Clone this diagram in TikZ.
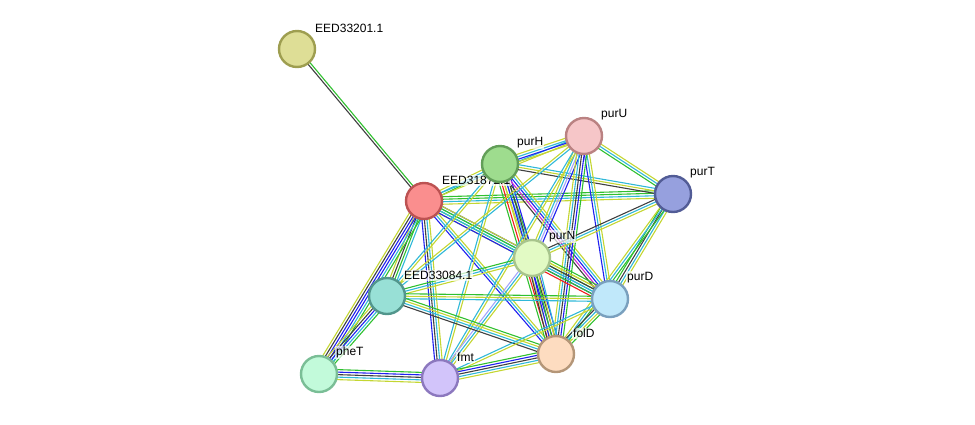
\documentclass[tikz,border=0pt]{standalone}
\usepackage{fontspec}
\setmainfont{Liberation Sans}
\usetikzlibrary{calc, positioning, backgrounds}
\pgfdeclarelayer{edges}
\pgfdeclarelayer{labels}
\pgfsetlayers{edges,labels,main}

% evidence channel colours
\definecolor{tmcol}{RGB}{196,214,50}
\definecolor{dbcol}{RGB}{48,184,216}
\definecolor{cocol}{RGB}{64,64,64}
\definecolor{nbcol}{RGB}{48,192,48}
\definecolor{occol}{RGB}{32,32,240}
\definecolor{excol}{RGB}{210,40,210}
\definecolor{fucol}{RGB}{240,30,30}
\definecolor{hmcol}{RGB}{165,165,250}

\tikzset{
  prot/.style={circle, minimum size=36pt, inner sep=0pt, line width=2.4pt},
  lab/.style={anchor=south west, inner sep=1pt, fill=white, fill opacity=0.7, text opacity=1,
    font=\fontsize{12}{13}\selectfont},
  tm/.style={draw=tmcol, line width=1.1pt},
  db/.style={draw=dbcol, line width=1.1pt},
  co/.style={draw=cocol, line width=1.1pt},
  nb/.style={draw=nbcol, line width=1.1pt},
  oc/.style={draw=occol, line width=1.1pt},
  ex/.style={draw=excol, line width=1.1pt},
  fu/.style={draw=fucol, line width=1.1pt},
  hm/.style={draw=hmcol, line width=1.1pt},
}

% one edge = a bundle of parallel evidence lines
\newcommand{\evid}[3]{%
  \foreach \ch [count=\k] in {#3} {\xdef\nlin{\k}}%
  \foreach \ch [count=\k] in {#3} {%
    \pgfmathsetmacro\off{(\k-(\nlin+1)/2)*2.5}%
    \draw[\ch] ($(#1)!\off pt!90:(#2)$) -- ($(#2)!\off pt!-90:(#1)$);
  }}

\begin{document}
\begin{tikzpicture}[x=1pt, y=-1pt]
  \useasboundingbox (0,0) rectangle (975,424);

  % proteins
  \node[prot, fill={rgb,255:red,222;green,222;blue,150}, draw={rgb,255:red,158;green,158;blue,80}] (eedA) at (297,49) {};
  \node[prot, fill={rgb,255:red,250;green,142;blue,142}, draw={rgb,255:red,188;green,82;blue,82}] (eedB) at (424,201) {};
  \node[prot, fill={rgb,255:red,158;green,220;blue,142}, draw={rgb,255:red,98;green,158;blue,88}] (purH) at (500,164) {};
  \node[prot, fill={rgb,255:red,246;green,198;blue,200}, draw={rgb,255:red,186;green,130;blue,130}] (purU) at (584,136) {};
  \node[prot, fill={rgb,255:red,150;green,160;blue,222}, draw={rgb,255:red,82;green,92;blue,150}] (purT) at (673,194) {};
  \node[prot, fill={rgb,255:red,226;green,250;blue,196}, draw={rgb,255:red,168;green,196;blue,140}] (purN) at (532,258) {};
  \node[prot, fill={rgb,255:red,152;green,224;blue,214}, draw={rgb,255:red,82;green,150;blue,140}] (eedC) at (387,296) {};
  \node[prot, fill={rgb,255:red,192;green,232;blue,250}, draw={rgb,255:red,122;green,160;blue,190}] (purD) at (610,299) {};
  \node[prot, fill={rgb,255:red,253;green,220;blue,192}, draw={rgb,255:red,180;green,150;blue,120}] (folD) at (556,354) {};
  \node[prot, fill={rgb,255:red,194;green,250;blue,218}, draw={rgb,255:red,122;green,190;blue,150}] (pheT) at (319,374) {};
  \node[prot, fill={rgb,255:red,210;green,196;blue,250}, draw={rgb,255:red,140;green,120;blue,190}] (fmt) at (440,378) {};

  % labels
  \begin{pgfonlayer}{labels}
    \node[lab] (lA) at ($(eedA)+(17,-15)$) {EED33201.1};
    \node[lab] (lB) at ($(eedB)+(17,-15)$) {EED31872.1};
    \node[lab] (lH) at ($(purH)+(16,-15)$) {purH};
    \node[lab] (lU) at ($(purU)+(16,-15)$) {purU};
    \node[lab] (lT) at ($(purT)+(16,-15)$) {purT};
    \node[lab] (lN) at ($(purN)+(16,-15)$) {purN};
    \node[lab] (lC) at ($(eedC)+(16,-15)$) {EED33084.1};
    \node[lab] (lD) at ($(purD)+(16,-15)$) {purD};
    \node[lab] (lF) at ($(folD)+(16,-15)$) {folD};
    \node[lab] (lP) at ($(pheT)+(16,-15)$) {pheT};
    \node[lab] (lM) at ($(fmt)+(16,-15)$) {fmt};
  \end{pgfonlayer}

  % interactions
  \begin{pgfonlayer}{edges}
    \evid{eedA}{eedB}{co,nb}
    \evid{eedB}{purH}{nb,db,tm}
    \evid{eedB}{purU}{tm,db}
    \evid{eedB}{purT}{tm,db,nb,nb}
    \evid{eedB}{purN}{tm,nb,db,oc}
    \evid{eedB}{purD}{oc,db,nb,tm}
    \evid{eedB}{folD}{oc,db,tm}
    \evid{eedB}{eedC}{tm,co,nb,db}
    \evid{eedB}{pheT}{tm,co,oc,oc,db,nb}
    \evid{eedB}{fmt}{oc,co,db,tm}
    \evid{purH}{purU}{tm,oc,db,tm}
    \evid{purH}{purT}{co,tm,db}
    \evid{purH}{purN}{tm,db,nb}
    \evid{purH}{folD}{nb,fu,tm,oc,co,oc}
    \evid{purH}{purD}{co,ex,oc,db,tm}
    \evid{purH}{eedC}{db,tm}
    \evid{purH}{fmt}{db,tm}
    \evid{purU}{purT}{nb,db,tm}
    \evid{purU}{purN}{tm,db,hm,oc}
    \evid{purU}{purD}{oc,db,tm}
    \evid{purU}{folD}{tm,db,co,oc,nb}
    \evid{purU}{eedC}{tm,db}
    \evid{purU}{fmt}{db,tm}
    \evid{purT}{purN}{co,db,tm}
    \evid{purT}{purD}{nb,co,db,tm}
    \evid{purT}{folD}{tm,db,nb}
    \evid{purN}{purD}{fu,nb,db,co,tm,nb}
    \evid{purN}{folD}{co,oc,nb,tm,db}
    \evid{purN}{eedC}{nb,db,tm}
    \evid{purN}{fmt}{hm,db,tm}
    \evid{eedC}{purD}{db,tm,nb}
    \evid{eedC}{folD}{co,db,tm,nb}
    \evid{eedC}{pheT}{tm,co,oc,db,nb}
    \evid{purD}{folD}{co,db,tm,nb}
    \evid{purD}{fmt}{db,tm}
    \evid{pheT}{fmt}{tm,db,co,oc,nb}
    \evid{fmt}{folD}{tm,db,co,oc,nb}
  \end{pgfonlayer}
\end{tikzpicture}
\end{document}
